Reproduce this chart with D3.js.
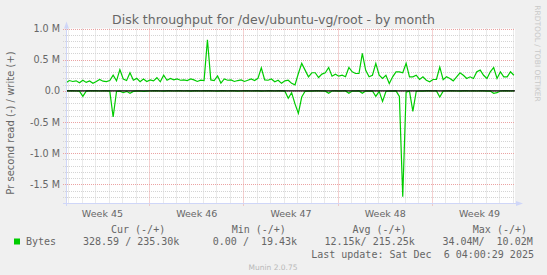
<!DOCTYPE html>
<html>
<head>
<meta charset="utf-8">
<script src="https://cdn.jsdelivr.net/npm/d3@7"></script>
<style>
    body { margin: 0; background: #f0f0f0; }
    svg text { font-family: "DejaVu Sans", sans-serif; fill: #666; }
    svg text.mono { font-family: "DejaVu Sans Mono", monospace; font-size: 10px; white-space: pre; }
</style>
</head>
<body>
<div id="chart"></div>
<script>
// Write throughput (+) in kB/s, one value every 6 hours.
const writeK = [
    128, 165, 150, 160, 130, 171, 135, 158, 120, 150, 182, 155, 148, 165, 250, 160, 340, 190, 165, 290,
    170, 200, 145, 190, 150, 175, 160, 210, 145, 250, 170, 200, 175, 190,
    170, 175, 165, 190, 175, 150, 170, 165, 820, 175, 165, 240, 125, 190, 170, 175, 150, 165, 175, 150,
    170, 190, 165, 200, 370, 175, 170, 190, 145, 170, 120, 160, 170,
    120, 95, 278, 440, 332, 225, 290, 290, 214, 268, 290, 375, 235, 268, 235, 250, 225, 375, 305, 278,
    278, 600, 330, 225, 250, 440, 250, 200, 250, 118, 225, 305, 305, 290,
    440, 225, 225, 250, 182, 225, 171, 144, 182, 182, 380, 180, 225, 198, 160, 225, 290, 250, 198, 225,
    198, 305, 332, 250, 198, 305, 375, 198, 305, 225, 225, 305, 250
];

// Read throughput (-) in kB/s, same timestamps, drawn below zero.
const readK = [
    0, 2, 0, 3, 5, 90, 4, 0, 2, 0, 3, 0, 2, 5, 420, 10, 5, 30, 8, 40,
    10, 5, 3, 8, 5, 3, 2, 0, 3, 5, 2, 0, 3, 2,
    0, 3, 2, 5, 0, 2, 3, 0, 2, 0, 3, 5, 0, 2, 3, 0, 2, 5, 3, 0,
    2, 3, 0, 2, 5, 3, 0, 2, 3, 0, 2, 5, 120,
    30, 210, 360, 100, 8, 3, 5, 2, 0, 3, 5, 40, 3, 2, 5, 3, 2, 40, 3, 5,
    2, 40, 3, 5, 3, 90, 8, 170, 10, 3, 5, 2, 90, 1700,
    20, 5, 330, 10, 3, 5, 2, 0, 3, 2, 100, 5, 3, 2, 0, 3, 5, 2, 0, 3,
    2, 3, 0, 2, 5, 3, 40, 30, 3, 2, 0, 3, 2
];

// Axis ticks and labels.
const yTicks = [-1.5e6, -1.0e6, -0.5e6, 0, 0.5e6, 1.0e6];
const yTickLabels = ["-1.5 M", "-1.0 M", "-0.5 M", "0.0", "0.5 M", "1.0 M"];
const weekStarts = ["2025-11-03", "2025-11-10", "2025-11-17", "2025-11-24", "2025-12-01"];
const weekLabels = ["Week 45", "Week 46", "Week 47", "Week 48", "Week 49"];

// Legend rows.
const legendHeaders = ["Cur (-/+)", "Min (-/+)", "Avg (-/+)", "Max (-/+)"];
const legendValues = ["328.59 / 235.30k", "0.00 /  19.43k", "12.15k/ 215.25k", "34.04M/  10.02M"];

const width = 547;
const height = 275;
const plot = { left: 66, right: 515, top: 28.5, bottom: 203 };

const hour = 3600 * 1000;
const start = Date.UTC(2025, 10, 3, 20);
const end = start + 800 * hour;

const svg = d3.select("#chart")
    .append("svg")
    .attr("width", width)
    .attr("height", height);

svg.append("rect")
    .attr("width", width)
    .attr("height", height)
    .attr("fill", "#f0f0f0");

const xScale = d3.scaleUtc()
    .domain([start, end])
    .range([plot.left, plot.right]);

const yScale = d3.scaleLinear()
    .domain([-1.8e6, 1.0e6])
    .range([plot.bottom, plot.top]);

// White canvas behind the plot.
svg.append("rect")
    .attr("x", plot.left)
    .attr("y", plot.top)
    .attr("width", plot.right - plot.left)
    .attr("height", plot.bottom - plot.top)
    .attr("fill", "#ffffff");

// Minor horizontal grid every 0.1 M, major every 0.5 M.
const minorY = d3.range(-17, 10).filter(function(v) { return v % 5 !== 0; })
    .map(function(v) { return v * 1e5; });

svg.append("g")
    .selectAll("line")
    .data(minorY)
    .join("line")
    .attr("x1", plot.left - 3)
    .attr("x2", plot.right)
    .attr("y1", function(d) { return Math.round(yScale(d)) + 0.5; })
    .attr("y2", function(d) { return Math.round(yScale(d)) + 0.5; })
    .attr("stroke", "#d4d4d4")
    .attr("stroke-dasharray", "1,1");

// Day lines and Monday lines.
const days = d3.utcDay.range(start, end).filter(function(d) { return d.getUTCDay() !== 1; });
const mondays = d3.utcMonday.range(start, end);

svg.append("g")
    .selectAll("line")
    .data(days)
    .join("line")
    .attr("x1", function(d) { return Math.round(xScale(d)) + 0.5; })
    .attr("x2", function(d) { return Math.round(xScale(d)) + 0.5; })
    .attr("y1", plot.top)
    .attr("y2", plot.bottom)
    .attr("stroke", "#d4d4d4")
    .attr("stroke-dasharray", "1,1");

svg.append("g")
    .selectAll("line")
    .data(yTicks)
    .join("line")
    .attr("x1", plot.left - 3)
    .attr("x2", plot.right)
    .attr("y1", function(d) { return Math.round(yScale(d)) + 0.5; })
    .attr("y2", function(d) { return Math.round(yScale(d)) + 0.5; })
    .attr("stroke", "#eba3a3")
    .attr("stroke-dasharray", "1,1");

svg.append("g")
    .selectAll("line")
    .data(mondays)
    .join("line")
    .attr("x1", function(d) { return Math.round(xScale(d)) + 0.5; })
    .attr("x2", function(d) { return Math.round(xScale(d)) + 0.5; })
    .attr("y1", plot.top)
    .attr("y2", plot.bottom + 3)
    .attr("stroke", "#eba3a3")
    .attr("stroke-dasharray", "1,1");

// Data lines.
const times = writeK.map(function(v, i) { return start + i * 6 * hour; });

const line = d3.line()
    .x(function(d) { return xScale(d[0]); })
    .y(function(d) { return yScale(d[1]); });

svg.append("path")
    .datum(readK.map(function(v, i) { return [times[i], -v * 1000]; }))
    .attr("d", line)
    .attr("fill", "none")
    .attr("stroke", "#00cc00")
    .attr("stroke-width", 1.2);

svg.append("path")
    .datum(writeK.map(function(v, i) { return [times[i], v * 1000]; }))
    .attr("d", line)
    .attr("fill", "none")
    .attr("stroke", "#00cc00")
    .attr("stroke-width", 1.2);

// Black zero line.
svg.append("line")
    .attr("x1", plot.left)
    .attr("x2", plot.right)
    .attr("y1", yScale(0))
    .attr("y2", yScale(0))
    .attr("stroke", "#000")
    .attr("stroke-width", 1.3);

// Axis lines with arrows.
svg.append("line")
    .attr("x1", plot.left - 3)
    .attr("x2", plot.right + 2)
    .attr("y1", plot.bottom + 0.5)
    .attr("y2", plot.bottom + 0.5)
    .attr("stroke", "#cfd6f8");

svg.append("line")
    .attr("x1", plot.left + 0.5)
    .attr("x2", plot.left + 0.5)
    .attr("y1", plot.bottom + 3)
    .attr("y2", plot.top - 2)
    .attr("stroke", "#cfd6f8");

svg.append("path")
    .attr("d", `M${plot.left - 2},${plot.top} L${plot.left + 3},${plot.top} L${plot.left + 0.5},${plot.top - 7} Z`)
    .attr("fill", "#cfd6f8");

svg.append("path")
    .attr("d", `M${plot.right + 1},${plot.bottom - 2} L${plot.right + 1},${plot.bottom + 3} L${plot.right + 8},${plot.bottom + 0.5} Z`)
    .attr("fill", "#cfd6f8");

// Y axis labels.
svg.append("g")
    .attr("transform", `translate(${plot.left}, 0)`)
    .call(d3.axisLeft(yScale)
        .tickValues(yTicks)
        .tickSize(0)
        .tickPadding(6)
        .tickFormat(function(d, i) { return yTickLabels[i]; }))
    .call(function(g) { g.select(".domain").remove(); })
    .selectAll("text")
    .attr("font-size", "9.6px")
    .attr("font-family", "DejaVu Sans")
    .attr("fill", "#666");

// Week labels centred in each week.
const weekCentres = weekStarts.map(function(s) { return new Date(Date.parse(s + "T00:00:00Z") + 84 * hour); });

svg.append("g")
    .attr("transform", `translate(0, ${plot.bottom})`)
    .call(d3.axisBottom(xScale)
        .tickValues(weekCentres)
        .tickSize(0)
        .tickPadding(7)
        .tickFormat(function(d, i) { return weekLabels[i]; }))
    .call(function(g) { g.select(".domain").remove(); })
    .selectAll("text")
    .attr("font-size", "9.5px")
    .attr("font-family", "DejaVu Sans")
    .attr("fill", "#666");

// Title.
svg.append("text")
    .attr("x", 273.5)
    .attr("y", 23.5)
    .attr("text-anchor", "middle")
    .attr("font-size", "12.5px")
    .text("Disk throughput for /dev/ubuntu-vg/root - by month");

// Y axis title.
svg.append("text")
    .attr("transform", "translate(10, 123) rotate(-90)")
    .attr("text-anchor", "middle")
    .attr("dominant-baseline", "central")
    .attr("font-size", "10px")
    .text("Pr second read (-) / write (+)");

// Watermarks.
svg.append("text")
    .attr("transform", "translate(537, 53.5) rotate(90)")
    .attr("text-anchor", "middle")
    .attr("dominant-baseline", "central")
    .attr("font-size", "7.5px")
    .style("fill", "#c8c8c8")
    .text("RRDTOOL / TOBI OETIKER");

svg.append("text")
    .attr("x", 273)
    .attr("y", 270)
    .attr("text-anchor", "middle")
    .attr("font-size", "7.5px")
    .style("fill", "#b8b8b8")
    .text("Munin 2.0.75");

// Legend.
const headerX = [111, 231.7, 352.4, 472.8];
const valueX = [83, 212.8, 324.5, 442.4];

svg.append("g")
    .selectAll("text")
    .data(legendHeaders)
    .join("text")
    .attr("class", "mono")
    .attr("x", function(d, i) { return headerX[i]; })
    .attr("y", 232.5)
    .text(function(d) { return d; });

svg.append("rect")
    .attr("x", 14)
    .attr("y", 238.5)
    .attr("width", 6)
    .attr("height", 6)
    .attr("fill", "#00cc00");

svg.append("text")
    .attr("class", "mono")
    .attr("x", 26)
    .attr("y", 245)
    .text("Bytes");

svg.append("g")
    .selectAll("text")
    .data(legendValues)
    .join("text")
    .attr("class", "mono")
    .attr("x", function(d, i) { return valueX[i]; })
    .attr("y", 245)
    .text(function(d) { return d; });

svg.append("text")
    .attr("class", "mono")
    .attr("x", 311.2)
    .attr("y", 258)
    .text("Last update: Sat Dec  6 04:00:29 2025");
</script>
</body>
</html>
